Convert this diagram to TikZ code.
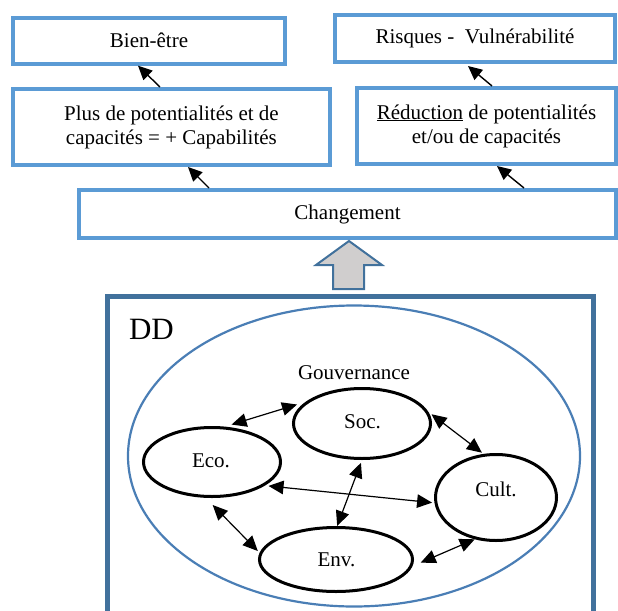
\documentclass[tikz,border=0pt]{standalone}
\usepackage{fontspec}
\setmainfont{Liberation Serif}
\usetikzlibrary{arrows.meta,shapes.geometric}
\definecolor{boxblue}{HTML}{5B9BD5}
\definecolor{frameblue}{HTML}{41719C}
\definecolor{ringblue}{HTML}{4A7EB5}
\definecolor{arrowgray}{HTML}{D0CECE}
\begin{document}
\begin{tikzpicture}[x=1pt,y=-1pt,
  txt/.style={font=\fontsize{21}{24}\selectfont},
  bluebox/.style={draw=boxblue, line width=4pt, rectangle, inner sep=0pt, align=center, txt},
  pillar/.style={draw=black, line width=3pt, ellipse, inner sep=0pt},
  pillartext/.style={txt, anchor=base, inner sep=0pt},
  uparrow/.style={-{Triangle[length=14pt,width=13pt]}, line width=1.4pt},
  link/.style={{Triangle[length=15pt,width=13.5pt]}-{Triangle[length=15pt,width=13.5pt]}, line width=1.2pt}
]
\useasboundingbox (0,0) rectangle (618,610);

% upper chain of boxes
\node[bluebox, minimum width=272.6pt, minimum height=46pt] (bien) at (149,40.7) {Bien-être};
\node[bluebox, minimum width=280pt, minimum height=47pt] (risk) at (475,38.5) {Risques -\ \ Vulnérabilité};
\node[bluebox, minimum width=317.3pt, minimum height=76pt] (plus) at (171.4,127) {Plus de potentialités et de\\capacités = + Capabilités};
\node[bluebox, minimum width=259pt, minimum height=76pt] (reduc) at (486.5,126) {\underline{Réduction} de potentialités\\et/ou de capacités};
\node[bluebox, minimum width=537pt, minimum height=48pt] (chg) at (347.5,214) {Changement};

% arrows between the boxes
\draw[uparrow] ([xshift=-11.4pt]plus.north) -- ([xshift=-11pt]bien.south);
\draw[uparrow] ([xshift=-138.5pt]chg.north) -- ([xshift=16.6pt]plus.south);
\draw[uparrow] ([xshift=5.5pt]reduc.north) -- ([xshift=-7pt,yshift=-2pt]risk.south);
\draw[uparrow] ([xshift=176.5pt]chg.north) -- ([xshift=10.5pt]reduc.south);

% frame of sustainable development
\node[draw=frameblue, line width=5pt, minimum width=485.5pt, minimum height=330pt, inner sep=0pt] (ddframe) at (350.25,461.5) {};
\node[draw=ringblue, line width=2.2pt, ellipse, minimum width=452pt, minimum height=301pt, inner sep=0pt] (ring) at (354,456) {};
\node[font=\fontsize{31}{36}\selectfont, anchor=base, inner sep=0pt] (ddlabel) at (151.5,339) {DD};
\node[txt, anchor=base, inner sep=0pt] (gouv) at (354,379) {Gouvernance};

% block arrow towards the change box
\draw[draw=frameblue, fill=arrowgray, line width=2pt, line join=miter]
  (349,241) -- (382,265) -- (364,265) -- (364,289) -- (333,289) -- (333,265) -- (316,265) -- cycle;

% the four pillars
\node[pillar, minimum width=137pt, minimum height=70pt] (soc) at (362,423.5) {};
\node[pillar, minimum width=137pt, minimum height=69pt] (eco) at (212,462) {};
\node[pillar, minimum width=121pt, minimum height=86pt] (cult) at (496,497.5) {};
\node[pillar, minimum width=153pt, minimum height=64pt] (env) at (336,559.5) {};
\node[pillartext] (soctext) at (362.5,428) {Soc.};
\node[pillartext] (ecotext) at (211,467) {Eco.};
\node[pillartext] (culttext) at (496,496) {Cult.};
\node[pillartext] (envtext) at (336.5,566) {Env.};

% interactions between pillars
\draw[link, shorten <=7pt, shorten >=9pt] (eco.70) -- (soc.159);
\draw[link, shorten <=4pt, shorten >=2pt] (soc.10) -- (cult.106);
\draw[link, shorten <=3.6pt, shorten >=2.4pt] (eco.-24) -- (cult.185);
\draw[link, shorten <=3pt] (soc.-90) -- (env.88);
\draw[link, shorten <=10pt, shorten >=2.5pt] (eco.-100) -- (env.175);
\draw[link, shorten <=9pt] (env.-5) -- (cult.-117);
\end{tikzpicture}
\end{document}
